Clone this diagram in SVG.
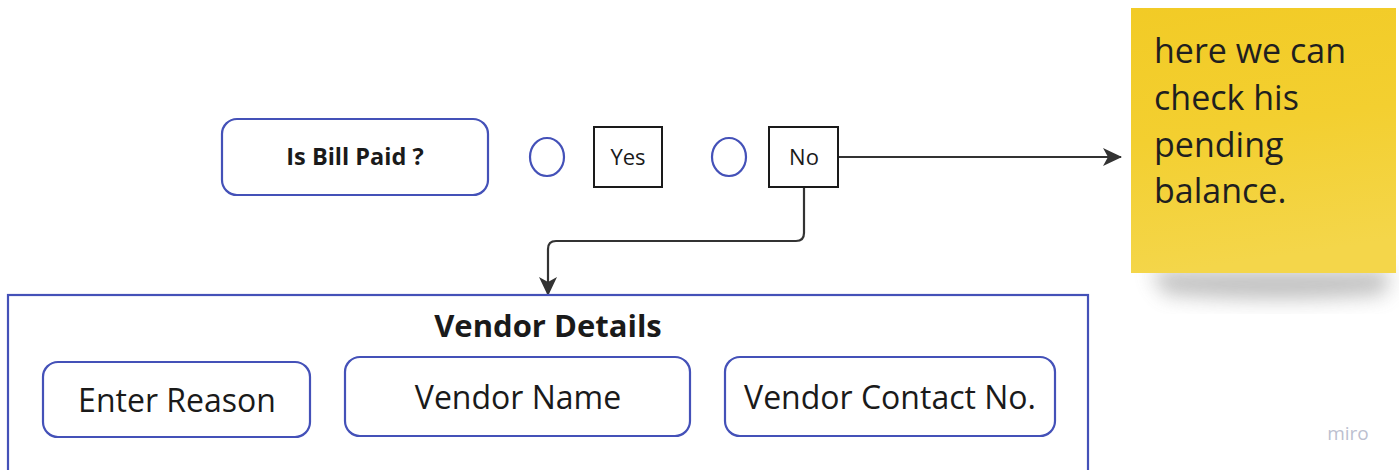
<svg xmlns="http://www.w3.org/2000/svg" width="1399" height="470" viewBox="0 0 1399 470">
  <style>
    .shape { fill: #ffffff; stroke: #4451b8; stroke-width: 2.2; }
    .box { fill: #ffffff; stroke: #1a1a1a; stroke-width: 2; }
    .label { font-family: "Open Sans", "Noto Sans", "Liberation Sans", sans-serif; fill: #1a1a1a; text-anchor: middle; }
    .edge { fill: none; stroke: #333333; stroke-width: 2.2; }
    .sticky-text { font-family: "Open Sans", "Noto Sans", "Liberation Sans", sans-serif; font-size: 34px; fill: #1f1f1f; }
  </style>
  <defs>
    <marker id="arrow" viewBox="0 0 20 20" refX="18" refY="10" markerWidth="20" markerHeight="20" markerUnits="userSpaceOnUse" orient="auto">
      <path d="M0,1 L19,10 L0,19 L5,10 Z" fill="#333333"/>
    </marker>
    <linearGradient id="stickyFill" x1="0" y1="0" x2="0.15" y2="1">
      <stop offset="0" stop-color="#f2cb26"/>
      <stop offset="0.5" stop-color="#f3cf30"/>
      <stop offset="1" stop-color="#f4d64a"/>
    </linearGradient>
    <filter id="stickyShadow" x="-20%" y="-50%" width="140%" height="200%">
      <feGaussianBlur stdDeviation="10"/>
    </filter>
  </defs>

  <rect width="1399" height="470" fill="#ffffff"/>

  <!-- connectors -->
  <g id="connectors">
    <path class="edge" d="M838,157 L1121,157" marker-end="url(#arrow)"/>
    <path class="edge" d="M804,187 L804,233 Q804,241 796,241 L556,241 Q548,241 548,249 L548,295" marker-end="url(#arrow)"/>
  </g>

  <!-- question -->
  <g id="is-bill-paid">
    <rect class="shape" x="222" y="119" width="266" height="76" rx="15"/>
    <text class="label" x="355" y="165" font-size="23.5" font-weight="700">Is Bill Paid ?</text>
  </g>

  <g id="radio-yes">
    <ellipse class="shape" cx="547" cy="157" rx="17" ry="19"/>
  </g>
  <g id="yes">
    <rect class="box" x="594" y="127" width="68" height="60"/>
    <text class="label" x="628" y="165" font-size="22">Yes</text>
  </g>

  <g id="radio-no">
    <ellipse class="shape" cx="729" cy="157" rx="17" ry="19"/>
  </g>
  <g id="no">
    <rect class="box" x="769" y="127" width="69" height="60"/>
    <text class="label" x="804" y="165" font-size="22">No</text>
  </g>

  <!-- sticky note -->
  <g id="sticky-note">
    <path d="M1150,270 L1390,270 L1385,294 Q1280,304 1165,294 Z" fill="#6a6a6a" opacity="0.42" filter="url(#stickyShadow)"/>
    <rect x="1131" y="8" width="265" height="265" fill="url(#stickyFill)"/>
    <text class="sticky-text" x="1154" y="63">here we can</text>
    <text class="sticky-text" x="1154" y="110">check his</text>
    <text class="sticky-text" x="1154" y="157">pending</text>
    <text class="sticky-text" x="1154" y="203">balance.</text>
  </g>

  <!-- vendor details frame -->
  <g id="vendor-details">
    <rect x="8" y="295" width="1080" height="190" fill="#ffffff" stroke="#4451b8" stroke-width="2.2"/>
    <text class="label" x="548" y="337" font-size="31" font-weight="700">Vendor Details</text>
  </g>

  <g id="enter-reason">
    <rect class="shape" x="43" y="362" width="267" height="75" rx="15"/>
    <text class="label" x="177" y="412" font-size="32">Enter Reason</text>
  </g>

  <g id="vendor-name">
    <rect class="shape" x="345" y="357" width="345" height="79" rx="15"/>
    <text class="label" x="518" y="409" font-size="32">Vendor Name</text>
  </g>

  <g id="vendor-contact">
    <rect class="shape" x="725" y="357" width="330" height="79" rx="15"/>
    <text class="label" x="890" y="409" font-size="32">Vendor Contact No.</text>
  </g>

  <text x="1348" y="440" font-family="'Open Sans', 'Noto Sans', sans-serif" font-size="19" fill="#bcbfd0" text-anchor="middle">miro</text>
</svg>
